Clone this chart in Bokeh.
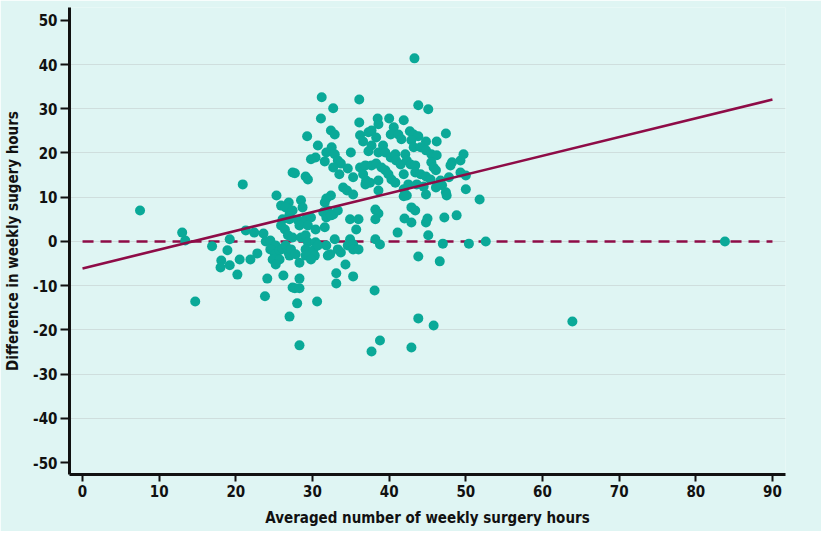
from bokeh.plotting import figure
from bokeh.models import Range1d, FixedTicker, ColumnDataSource
from bokeh.embed import file_html
from bokeh.resources import INLINE

# Averaged number of weekly surgery hours (x) and difference (y)
avg_hours = [
    7.5, 13.0, 13.4, 14.7, 16.9, 19.2, 18.9, 18.1, 18.0, 19.2, 20.5, 20.2, 20.9, 21.3, 22.4, 23.6,
    22.8, 21.9, 23.8, 24.1, 25.3, 25.9, 26.9, 27.0, 26.1, 25.9, 26.4, 23.9, 24.5, 25.2, 24.5, 25.1,
    25.7, 26.1, 26.5, 26.8, 27.0, 24.8, 25.7, 25.2, 26.2, 27.4, 27.0, 27.4, 28.3, 28.3, 27.7, 28.3,
    28.0, 30.6, 28.3, 33.1, 34.3, 35.3, 33.1, 38.1, 38.8, 37.7, 31.2, 36.1, 32.7, 31.1, 36.1, 38.5,
    38.6, 32.4, 32.9, 29.3, 36.2, 37.3, 37.7, 36.6, 38.3, 30.7, 37.7, 32.5, 31.8, 32.9, 35.0, 30.4,
    29.8, 31.6, 33.3, 33.7, 37.3, 38.6, 36.2, 36.9, 37.7, 38.3, 32.7, 34.6, 33.5, 27.7, 29.1, 29.4,
    35.3, 36.6, 37.0, 37.5, 36.9, 34.0, 34.5, 35.3, 32.4, 31.8, 31.6, 28.5, 28.7, 26.5, 27.4, 31.4,
    32.0, 32.7, 33.3, 38.2, 38.6, 31.8, 32.4, 34.9, 36.0, 38.2, 27.0, 28.1, 29.1, 29.8, 28.3, 29.4,
    30.4, 31.6, 35.7, 26.8, 27.4, 28.5, 29.1, 32.9, 34.9, 38.2, 29.4, 30.4, 31.8, 33.3, 34.6, 35.3,
    38.8, 27.2, 29.1, 30.1, 30.7, 27.8, 29.1, 30.3, 32.3, 33.7, 29.8, 32.0, 35.3, 36.0,
    43.3, 43.8, 45.1, 40.0, 41.9, 40.6, 40.2, 41.2, 41.6, 42.7, 43.2, 43.8, 42.9, 44.8, 46.2, 47.4,
    39.2, 39.5, 40.2, 40.8, 40.9, 41.5, 42.1, 43.2, 44.1, 44.8, 45.5, 46.2, 42.3, 42.8, 43.4, 45.5,
    45.8, 46.1, 48.2, 49.3, 49.7, 48.0, 39.0, 39.5, 39.9, 40.3, 40.8, 41.9, 43.4, 44.1, 44.8, 45.4,
    49.3, 50.0, 47.8, 46.7, 46.9, 41.9, 42.5, 43.6, 44.5, 50.0, 46.1, 47.4, 44.8, 42.3, 38.6, 38.6,
    41.9, 47.5, 51.8, 42.9, 43.4, 42.0, 42.9, 44.8, 45.0, 47.2, 48.8, 41.1, 45.1, 47.0, 50.4, 52.6,
    43.8, 46.6, 43.8, 45.8, 42.9, 83.8, 63.9,
]
diff_hours = [
    7.0, 2.0, 0.2, -13.6, -1.1, 0.5, -2.0, -4.3, -5.9, -5.4, -4.1, -7.5, 12.9, 2.5, 2.0, 1.8,
    -2.7, -4.1, -12.4, -8.4, 10.4, 8.1, 8.8, 6.1, 5.0, 3.6, 2.7, 0.0, 0.2, -0.9, -1.8, -2.9,
    -2.0, -1.6, -0.9, -2.3, -3.2, -4.1, -4.1, -5.2, -7.7, -10.4, -17.0, 15.6, -4.8, -8.4, -10.6, -10.6,
    -14.0, -13.6, -23.5, -7.2, -5.2, -7.9, -9.5, -11.1, -22.4, -24.9, 32.6, 32.1, 30.1, 27.8, 26.9, 27.8,
    26.5, 25.1, 24.2, 23.8, 24.0, 24.7, 25.1, 22.6, 23.5, 21.7, 21.7, 21.3, 20.1, 19.7, 20.1, 19.0,
    18.6, 18.1, 18.3, 17.6, 20.4, 20.1, 16.7, 17.2, 17.2, 17.6, 16.7, 16.5, 15.2, 15.4, 14.7, 14.0,
    14.5, 15.2, 13.8, 13.3, 12.9, 12.2, 11.5, 10.6, 10.4, 9.7, 8.8, 9.3, 7.7, 7.7, 7.0, 6.6,
    7.0, 6.1, 7.0, 7.2, 6.3, 5.4, 5.9, 5.0, 5.0, 5.0, 5.0, 4.8, 5.0, 5.4, 3.6, 3.6,
    2.7, 3.2, 2.7, 1.4, 0.9, 0.9, 1.4, 0.5, 0.5, 0.5, -0.2, -0.2, -0.9, -1.8, -0.9, -0.7,
    -0.7, -1.8, -1.8, -2.0, -0.9, -2.9, -3.2, -3.2, -2.9, -2.5, -4.1, -3.2, -1.8, -1.8,
    41.4, 30.8, 29.9, 27.8, 27.4, 25.8, 24.2, 24.2, 23.1, 24.9, 24.2, 23.8, 22.9, 22.6, 22.6, 24.4,
    21.7, 20.1, 19.0, 19.7, 18.3, 17.4, 19.7, 21.3, 21.3, 20.6, 19.7, 19.5, 18.3, 17.4, 17.2, 17.9,
    16.7, 16.1, 17.9, 18.3, 19.7, 17.2, 16.7, 16.1, 15.2, 14.0, 13.3, 15.2, 15.6, 15.2, 14.7, 14.0,
    15.6, 14.9, 14.5, 13.8, 12.7, 11.8, 12.9, 12.9, 12.4, 11.8, 12.2, 11.1, 10.6, 10.4, 13.8, 11.5,
    10.2, 10.4, 9.5, 7.7, 7.0, 5.2, 4.3, 4.3, 5.2, 5.4, 5.9, 2.0, 1.4, -0.5, -0.5, 0.0,
    -3.4, -4.5, -17.4, -19.0, -24.0, 0.0, -18.1,
]

# Regression line and zero reference line
fit_x = [0, 90]
fit_y = [-6.1, 32.1]
zero_x = [0, 90]
zero_y = [0, 0]

x_ticks = [0, 10, 20, 30, 40, 50, 60, 70, 80, 90]
y_ticks = [-50, -40, -30, -20, -10, 0, 10, 20, 30, 40, 50]
grid_ticks = [-40, -30, -20, -10, 0, 10, 20, 30, 40]
y_tick_labels = {t: str(t) for t in y_ticks}  # plain hyphen minus, as in the original

BG = "#dff5f3"
TEAL = "#0aa998"
MAROON = "#8e0c47"
FONT = "DejaVu Sans Condensed"

p = figure(width=821, height=531, output_backend="svg", toolbar_location=None,
           x_range=Range1d(-1.7, 91.7), y_range=Range1d(-52.7, 52.9),
           min_border_left=69, min_border_right=36, min_border_top=7, min_border_bottom=57)
p.background_fill_color = BG
p.border_fill_color = BG
p.outline_line_color = None

p.line(zero_x, zero_y, line_color=MAROON, line_width=2.6, line_dash="11 7")
src = ColumnDataSource(dict(x=avg_hours, y=diff_hours))
p.scatter("x", "y", source=src, size=10, fill_color=TEAL, line_color=None)
p.line(fit_x, fit_y, line_color=MAROON, line_width=2.6)

p.xgrid.visible = False
p.ygrid.ticker = FixedTicker(ticks=grid_ticks)
p.ygrid.grid_line_color = "#cfdedd"
p.ygrid.grid_line_width = 1

p.xaxis.ticker = FixedTicker(ticks=x_ticks)
p.yaxis.ticker = FixedTicker(ticks=y_ticks)
p.yaxis.major_label_overrides = y_tick_labels
for ax in (p.xaxis, p.yaxis):
    ax.axis_line_width = 3
    ax.axis_line_color = "#111111"
    ax.major_tick_line_width = 2
    ax.major_tick_line_color = "#111111"
    ax.major_tick_in = 0
    ax.minor_tick_line_color = None
    ax.major_label_text_font = FONT
    ax.major_label_text_font_style = "bold"
    ax.major_label_text_font_size = "15px"
    ax.major_label_text_color = "#111111"
    ax.axis_label_text_font = FONT
    ax.axis_label_text_font_style = "bold"
    ax.axis_label_text_font_size = "15px"
    ax.axis_label_text_color = "#111111"

p.xaxis.major_tick_out = 7
p.yaxis.major_tick_out = 9
p.xaxis.major_label_standoff = 3
p.yaxis.major_label_standoff = 3
p.xaxis.axis_label = "Averaged number of weekly surgery hours"
p.yaxis.axis_label = "Difference in weekly sugery hours"
p.xaxis.axis_label_standoff = 9
p.yaxis.axis_label_standoff = 8

open("out.html", "w").write(file_html(p, INLINE))
